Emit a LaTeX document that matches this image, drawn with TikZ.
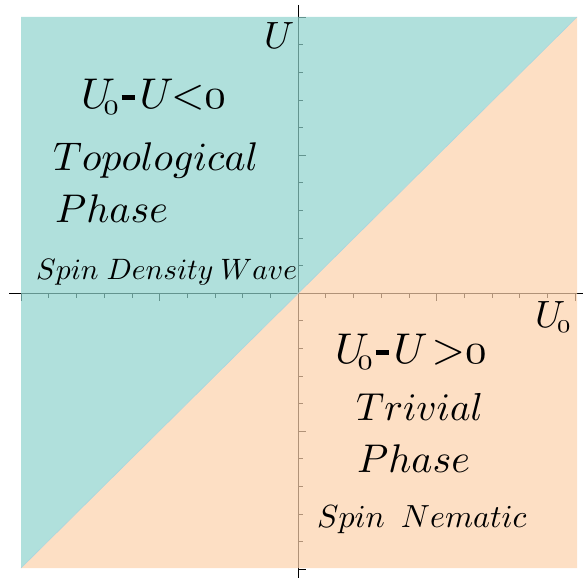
\documentclass[tikz,border=0pt]{standalone}
\usepackage{amsmath}
\usetikzlibrary{calc}
\DeclareFontShape{OML}{cmm}{m}{it}{<->cmmi10}{}
\DeclareFontShape{OT1}{cmr}{m}{n}{<->cmr10}{}
\DeclareFontShape{OMS}{cmsy}{m}{n}{<->cmsy10}{}
\definecolor{tealfill}{RGB}{142,211,205}
\definecolor{orangefill}{RGB}{252,209,171}
\definecolor{edgeblue}{RGB}{168,214,224}
\newcommand{\oz}{\mathnormal{0}}
\newcommand{\phaseexpr}[2]{$U_{\kern-7pt\oz}\kern2.6pt\rule[8pt]{13pt}{5pt}\kern5pt U\kern#2{#1}\oz$}
\begin{document}
\begin{tikzpicture}[x=1pt,y=-1pt,
  axisline/.style={black, line width=0.7pt},
  tickline/.style={black, line width=0.5pt},
  lbl/.style={inner sep=0pt, anchor=base west, text=black},
  big/.style={lbl, font=\fontsize{43}{50}\selectfont},
  mid/.style={lbl, font=\fontsize{40}{46}\selectfont},
  small/.style={lbl, font=\fontsize{31}{36}\selectfont},
  axlab/.style={lbl, font=\fontsize{38}{44}\selectfont}]
\useasboundingbox (0,0) rectangle (584,578);
% axes
\coordinate (O) at (298,293);
\coordinate (xl) at (9,293);
\coordinate (xr) at (583,293);
\coordinate (yt) at (298,5);
\coordinate (yb) at (298,578);
\draw[axisline] (xl) -- (xr);
\draw[axisline] (yt) -- (yb);
\foreach \k in {-9,-8,-7,-6,-4,-3,-2,-1,1,2,3,4,6,7,8,9} {
  \draw[tickline] ($(O)+(\k*27.7,0)$) -- ++(0,4.5);
  \draw[tickline] ($(O)+(0,\k*27.6)$) -- ++(4.5,0);
}
\foreach \k in {-10,-5,5,10} {
  \draw[tickline] ($(O)+(\k*27.7,0)$) -- ++(0,7.5);
  \draw[tickline] ($(O)+(0,\k*27.6)$) -- ++(7.5,0);
}
% regions
\coordinate (tl) at (21,17);
\coordinate (tr) at (577,17);
\coordinate (bl) at (21,568);
\coordinate (br) at (577,568);
\fill[tealfill, opacity=0.7] (tl) -- (tr) -- (bl) -- cycle;
\fill[orangefill, opacity=0.7] (tr) -- (br) -- (bl) -- cycle;
\draw[edgeblue, line width=0.6pt] (bl) -- (tr);
% labels
\node[axlab] (lU) at (264,49) {$U$};
\node[axlab] (lU0) at (535,327) {$U_{\kern-4pt\oz}$};
\node[big] (c1) at (81,108) {\phaseexpr{<}{-2.7pt}};
\node[mid] (top1) at (53,170) {$Topological$};
\node[mid] (top2) at (55,222) {$Phase$};
\node[small, font=\fontsize{29.5}{35}\selectfont] (sdw) at (36,279) {$Spin\hspace{8pt}Density\hspace{7pt}Wave$};
\node[big] (c2) at (335,363) {\phaseexpr{>}{4pt}};
\node[mid, font=\fontsize{39}{46}\selectfont] (tri1) at (356,420) {$Trivial$};
\node[mid] (tri2) at (357,472) {$Phase$};
\node[small, font=\fontsize{32}{37}\selectfont] (sn) at (317,527) {$Spin\hspace{16pt}Nematic$};
\end{tikzpicture}
\end{document}
